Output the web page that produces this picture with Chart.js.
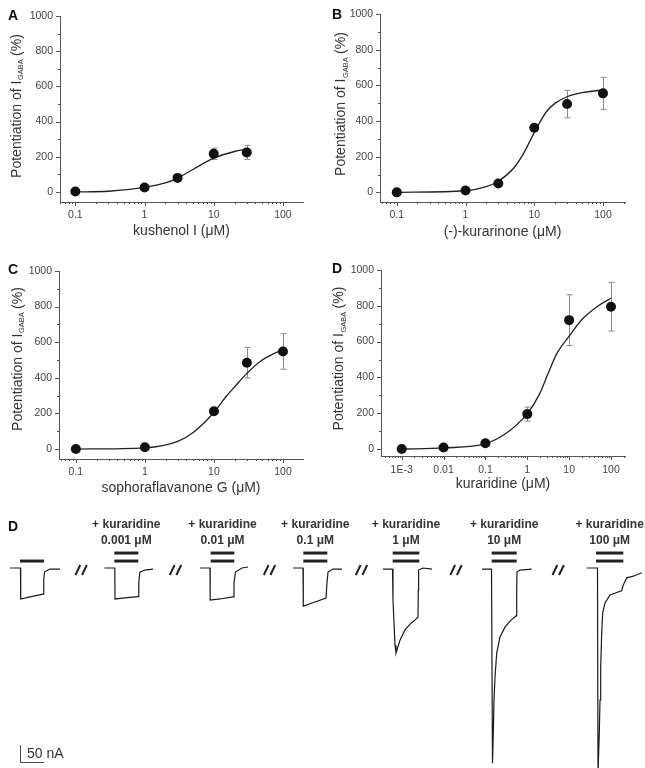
<!DOCTYPE html>
<html>
<head>
<meta charset="utf-8">
<script src="https://cdn.jsdelivr.net/npm/chart.js@4.4.1/dist/chart.umd.min.js"></script>
<style>
  body { margin: 0; background: #fff; }
  #wrap { position: relative; width: 645px; height: 768px; }
  canvas { position: absolute; }
</style>
</head>
<body>
<div id="wrap">
  <canvas id="cA" width="320" height="250" style="left:0;top:0"></canvas>
  <canvas id="cB" width="325" height="250" style="left:320px;top:0"></canvas>
  <canvas id="cC" width="320" height="250" style="left:0;top:250px"></canvas>
  <canvas id="cD" width="325" height="250" style="left:320px;top:250px"></canvas>
  <canvas id="cT" width="645" height="268" style="left:0;top:500px"></canvas>
</div>
<script>
// ---- dose-response data (conc in µM, potentiation of I_GABA in %, error) ----
const kushenolConc = [0.1, 1, 3, 10, 30];
const kushenolPot = [3, 25, 80, 217, 225];
const kushenolErr = [0, 0, 0, 32, 40];
const kushenolFitX = [0.1, 0.3, 1, 2, 3, 5, 10, 20, 30];
const kushenolFitY = [0, 4, 26, 51, 79, 128, 192, 230, 243];

const kurarinoneConc = [0.1, 1, 3, 10, 30, 100];
const kurarinonePot = [0, 10, 50, 362, 495, 555];
const kurarinoneErr = [0, 0, 0, 0, 77, 90];
const kurarinoneFitX = [0.1, 1, 2, 3, 5, 7, 10, 15, 20, 30, 50, 100];
const kurarinoneFitY = [0, 9, 32, 62, 135, 219, 335, 452, 499, 536, 559, 574];

const sophoraConc = [0.1, 1, 10, 30, 100];
const sophoraPot = [0, 10, 212, 485, 548];
const sophoraErr = [0, 0, 0, 86, 100];
const sophoraFitX = [0.1, 1, 3, 5, 10, 15, 20, 30, 50, 100];
const sophoraFitY = [0, 7, 43, 93, 205, 295, 350, 425, 500, 560];

const kuraridineConc = [0.001, 0.01, 0.1, 1, 10, 100];
const kuraridinePot = [0, 8, 32, 195, 720, 795];
const kuraridineErr = [0, 0, 0, 39, 142, 136];
const kuraridineFitX = [0.001, 0.01, 0.1, 0.3, 1, 2, 3, 5, 10, 20, 50, 100];
const kuraridineFitY = [0, 6, 30, 85, 198, 311, 410, 530, 630, 722, 800, 842];

const decadeTicks = [0.1, 1, 10, 100];
const decadeLabels = ["0.1", "1", "10", "100"];
const wideTicks = [0.001, 0.01, 0.1, 1, 10, 100];
const wideLabels = ["1E-3", "0.01", "0.1", "1", "10", "100"];
const yTicks = [0, 200, 400, 600, 800, 1000];

// ---- current traces: [time s, current nA], time from trace start ----
const traceCtrl = [[0, 3], [2.1, 3], [2.14, -88], [4, -82], [6.6, -74], [6.75, -32], [6.9, -9], [7.6, -3], [8, 0], [10, 0]];
const trace0001 = [[0, 3], [2.1, 3], [2.14, -88], [4.1, -85], [6.74, -81], [6.9, -40], [7.1, -9], [8.1, -3], [9.74, 0]];
const trace001 = [[0, 3], [2, 3], [2.04, -91], [4, -88], [6.6, -82], [6.8, -40], [7.1, -9], [8.4, 3], [9.6, 6]];
const trace01 = [[0, 3], [2, 3], [2.06, -109], [4.4, -97], [6.6, -85], [6.8, -40], [7, -9], [8, 0], [9.8, 0]];
const trace1 = [[0, 0], [1.9, 0], [2.0, -91], [2.4, -224], [2.6, -247], [3.4, -209], [4.4, -179], [5.4, -162], [6.4, -150], [7.0, -141], [7.06, -62], [7.12, -3], [8, 3], [9.8, 0]];
const trace10 = [[0, 0], [1.9, 0], [2.1, -571], [2.26, -482], [2.4, -385], [2.6, -318], [2.94, -247], [3.6, -200], [4.6, -171], [5.6, -153], [6.8, -138], [6.94, -62], [7.0, -9], [7.6, -3], [9.94, 0]];
const trace100 = [[0, 3], [2.16, 3], [2.26, -600], [2.52, -482], [2.66, -385], [2.8, -288], [3.0, -188], [3.2, -129], [3.66, -100], [4.66, -76], [6.0, -69], [7.0, -64], [7.32, -47], [8.0, -26], [9.32, -21], [11.0, -11]];
const traceList = [traceCtrl, trace0001, trace001, trace01, trace1, trace10, trace100];
const traceStart = [2, 20.86, 40, 58.6, 76.6, 96.4, 117.34];
const applyOn = [2, 2, 2.14, 2.06, 1.94, 1.94, 1.86];
const applyOff = [6.8, 6.8, 6.86, 6.86, 7.26, 6.94, 7.32];
const concLabels = ["", "0.001 μM", "0.01 μM", "0.1 μM", "1 μM", "10 μM", "100 μM"];
const scaleBarNA = 50;
const scaleBarS = 4.8;

Chart.defaults.font.family = '"Liberation Sans", Arial, sans-serif';
Chart.defaults.color = "#444";

const FONT = '"Liberation Sans", Arial, sans-serif';

function doseDecor(p) {
  return {
    id: "doseDecor",
    beforeDatasetsDraw(chart) {
      const { ctx, scales: { x, y } } = chart;
      ctx.save();
      ctx.strokeStyle = "#8a8a8a";
      ctx.lineWidth = 1;
      ctx.beginPath();
      p.x.forEach((cx, i) => {
        if (!p.err[i]) return;
        const px = Math.round(x.getPixelForValue(cx)) + 0.5;
        const top = y.getPixelForValue(p.y[i] + p.err[i]);
        const bot = y.getPixelForValue(p.y[i] - p.err[i]);
        ctx.moveTo(px, top); ctx.lineTo(px, bot);
        ctx.moveTo(px - 3, top); ctx.lineTo(px + 3, top);
        ctx.moveTo(px - 3, bot); ctx.lineTo(px + 3, bot);
      });
      ctx.stroke();
      ctx.restore();
    },
    afterDraw(chart) {
      const { ctx, scales: { x, y }, chartArea: a } = chart;
      ctx.save();
      // tick marks, major and minor
      ctx.strokeStyle = "#555";
      ctx.lineWidth = 1;
      ctx.beginPath();
      for (let v = 0; v <= 1000; v += 100) {
        const py = Math.round(y.getPixelForValue(v)) + 0.5;
        const len = v % 200 === 0 ? 4 : 2;
        ctx.moveTo(a.left, py); ctx.lineTo(a.left - len, py);
      }
      const k0 = Math.floor(Math.log10(x.min));
      const k1 = Math.ceil(Math.log10(x.max));
      for (let k = k0; k <= k1; k++) {
        for (let m = 1; m <= 9; m++) {
          const v = m * Math.pow(10, k);
          if (v < x.min || v > x.max) continue;
          const px = Math.round(x.getPixelForValue(v)) + 0.5;
          ctx.moveTo(px, a.bottom); ctx.lineTo(px, a.bottom + (m === 1 ? 4 : 2));
        }
      }
      ctx.stroke();

      // x title
      ctx.fillStyle = "#333";
      ctx.font = "14px " + FONT;
      ctx.textAlign = "center";
      ctx.textBaseline = "middle";
      ctx.fillText(p.xTitle, (a.left + a.right) / 2, p.xTitleY);

      // y title with subscript
      const main = "Potentiation of I", sub = "GABA", tail = " (%)";
      ctx.font = "14px " + FONT;
      const w1 = ctx.measureText(main).width, w3 = ctx.measureText(tail).width;
      ctx.font = "7.5px " + FONT;
      const w2 = ctx.measureText(sub).width;
      const total = w1 + w2 + w3;
      ctx.translate(p.yTitleX, p.yTitleY);
      ctx.rotate(-Math.PI / 2);
      ctx.textAlign = "left";
      ctx.textBaseline = "alphabetic";
      ctx.font = "14px " + FONT;
      ctx.fillText(main, -total / 2, 0);
      ctx.font = "7.5px " + FONT;
      ctx.fillText(sub, -total / 2 + w1 + 0.5, 2.5);
      ctx.font = "14px " + FONT;
      ctx.fillText(tail, -total / 2 + w1 + w2, 0);
      ctx.setTransform(1, 0, 0, 1, 0, 0);

      // panel letter
      ctx.font = "bold 14px " + FONT;
      ctx.fillStyle = "#111";
      ctx.fillText(p.letter, p.letterX, p.letterY);
      ctx.restore();
    },
  };
}

function doseChart(id, p) {
  const c = document.getElementById(id);
  const W = c.width, H = c.height;
  return new Chart(c, {
    type: "scatter",
    data: {
      datasets: [
        {
          data: p.x.map((v, i) => ({ x: v, y: p.y[i] })),
          pointRadius: 5,
          backgroundColor: "#111",
          borderWidth: 0,
        },
        {
          data: p.fitX.map((v, i) => ({ x: v, y: p.fitY[i] })),
          showLine: true,
          borderColor: "#222",
          borderWidth: 1.3,
          pointRadius: 0,
          cubicInterpolationMode: "monotone",
        },
      ],
    },
    options: {
      responsive: false,
      animation: false,
      events: [],
      layout: { padding: { top: p.area.top, right: W - p.area.right, left: 0, bottom: 0 } },
      plugins: { legend: { display: false }, tooltip: { enabled: false } },
      scales: {
        x: {
          type: "logarithmic",
          min: p.xMin,
          max: p.xMax,
          bounds: "data",
          grid: { display: false, drawTicks: false },
          border: { display: true, color: "#555", width: 1 },
          ticks: {
            padding: p.xPad,
            color: "#444",
            font: { size: 10.5 },
            autoSkip: false,
            maxRotation: 0,
            callback: (v, i) => p.xLabels[i],
          },
          afterBuildTicks: (s) => { s.ticks = p.xTicks.map((v) => ({ value: v })); },
          afterFit: (s) => { s.height = H - p.area.bottom; },
        },
        y: {
          min: p.yMin,
          max: 1000,
          bounds: "data",
          grid: { display: false, drawTicks: false },
          border: { display: true, color: "#555", width: 1 },
          ticks: { padding: 7, color: "#444", font: { size: 10.5 }, callback: (v) => String(v) },
          afterBuildTicks: (s) => { s.ticks = yTicks.map((v) => ({ value: v })); },
          afterFit: (s) => { s.width = p.area.left; },
        },
      },
    },
    plugins: [doseDecor(p)],
  });
}

doseChart("cA", {
  x: kushenolConc, y: kushenolPot, err: kushenolErr, fitX: kushenolFitX, fitY: kushenolFitY,
  xMin: 0.06, xMax: 195, yMin: -57, xTicks: decadeTicks, xLabels: decadeLabels, xPad: 7,
  area: { left: 60, top: 16, right: 303, bottom: 202 },
  xTitle: "kushenol I (μM)", xTitleY: 231, yTitleX: 20.5, yTitleY: 106,
  letter: "A", letterX: 8, letterY: 20,
});
doseChart("cB", {
  x: kurarinoneConc, y: kurarinonePot, err: kurarinoneErr, fitX: kurarinoneFitX, fitY: kurarinoneFitY,
  xMin: 0.057, xMax: 209, yMin: -54, xTicks: decadeTicks, xLabels: decadeLabels, xPad: 7,
  area: { left: 60, top: 14, right: 305, bottom: 202 },
  xTitle: "(-)-kurarinone (μM)", xTitleY: 232, yTitleX: 25, yTitleY: 104,
  letter: "B", letterX: 12, letterY: 19,
});
doseChart("cC", {
  x: sophoraConc, y: sophoraPot, err: sophoraErr, fitX: sophoraFitX, fitY: sophoraFitY,
  xMin: 0.057, xMax: 195, yMin: -56, xTicks: decadeTicks, xLabels: decadeLabels, xPad: 7,
  area: { left: 59, top: 21, right: 303, bottom: 209 },
  xTitle: "sophoraflavanone G (μM)", xTitleY: 238, yTitleX: 21.5, yTitleY: 109,
  letter: "C", letterX: 8, letterY: 24,
});
doseChart("cD", {
  x: kuraridineConc, y: kuraridinePot, err: kuraridineErr, fitX: kuraridineFitX, fitY: kuraridineFitY,
  xMin: 0.00032, xMax: 216, yMin: -39, xTicks: wideTicks, xLabels: wideLabels, xPad: 8,
  area: { left: 61, top: 20, right: 305, bottom: 206 },
  xTitle: "kuraridine (μM)", xTitleY: 234.5, yTitleX: 23, yTitleY: 108.5,
  letter: "D", letterX: 12, letterY: 23,
});

// ---- current traces ----
const traceDecor = {
  id: "traceDecor",
  afterDatasetsDraw(chart) {
    const { ctx, scales: { x, y } } = chart;
    const base = y.getPixelForValue(0);
    ctx.save();

    // application bars and labels
    ctx.fillStyle = "#222";
    traceList.forEach((tr, i) => {
      const x0 = x.getPixelForValue(traceStart[i] + applyOn[i]);
      const x1 = x.getPixelForValue(traceStart[i] + applyOff[i]);
      ctx.fillRect(x0, base - 9.5, x1 - x0, 3);
      if (concLabels[i]) {
        ctx.fillRect(x0, base - 17.5, x1 - x0, 3);
        const cx = (x0 + x1) / 2;
        ctx.font = "bold 12px " + FONT;
        ctx.textAlign = "center";
        ctx.textBaseline = "middle";
        ctx.fillStyle = "#333";
        ctx.fillText("+ kuraridine", cx, base - 44);
        ctx.fillText(concLabels[i], cx, base - 28);
        ctx.fillStyle = "#222";
      }
    });

    // break marks between traces
    ctx.strokeStyle = "#222";
    ctx.lineWidth = 2;
    ctx.beginPath();
    for (let i = 0; i < traceList.length - 1; i++) {
      const tr = traceList[i];
      const end = traceStart[i] + tr[tr.length - 1][0];
      const cx = (x.getPixelForValue(end) + x.getPixelForValue(traceStart[i + 1])) / 2 - 1;
      const cy = base + 1;
      [-3.3, 3.3].forEach((dx) => {
        ctx.moveTo(cx + dx - 2.4, cy + 5);
        ctx.lineTo(cx + dx + 2.4, cy - 5);
      });
    }
    ctx.stroke();

    // scale bar
    const sx = x.getPixelForValue(4);
    const sy = y.getPixelForValue(-568);
    const sTop = y.getPixelForValue(-568 + scaleBarNA);
    const sRight = x.getPixelForValue(4 + scaleBarS);
    ctx.strokeStyle = "#444";
    ctx.lineWidth = 1;
    ctx.beginPath();
    ctx.moveTo(Math.round(sx) + 0.5, sTop);
    ctx.lineTo(Math.round(sx) + 0.5, Math.round(sy) + 0.5);
    ctx.lineTo(sRight, Math.round(sy) + 0.5);
    ctx.stroke();
    ctx.fillStyle = "#333";
    ctx.font = "14px " + FONT;
    ctx.textAlign = "left";
    ctx.textBaseline = "middle";
    ctx.fillText(scaleBarNA + " nA", sx + 7, (sTop + sy) / 2);

    // panel letter
    ctx.font = "bold 14px " + FONT;
    ctx.fillStyle = "#111";
    ctx.textBaseline = "alphabetic";
    ctx.fillText("D", 8, 30.5);
    ctx.restore();
  },
};

new Chart(document.getElementById("cT"), {
  type: "scatter",
  data: {
    datasets: traceList.map((tr, i) => ({
      data: tr.map(([t, v]) => ({ x: traceStart[i] + t, y: v })),
      showLine: true,
      borderColor: "#1a1a1a",
      borderWidth: 1.2,
      pointRadius: 0,
      tension: 0,
    })),
  },
  options: {
    responsive: false,
    animation: false,
    events: [],
    layout: { padding: 0 },
    plugins: { legend: { display: false }, tooltip: { enabled: false } },
    scales: {
      x: { type: "linear", display: false, min: 0, max: 129 },
      y: { type: "linear", display: false, min: -585, max: 203 },
    },
  },
  plugins: [traceDecor],
});
</script>
</body>
</html>
